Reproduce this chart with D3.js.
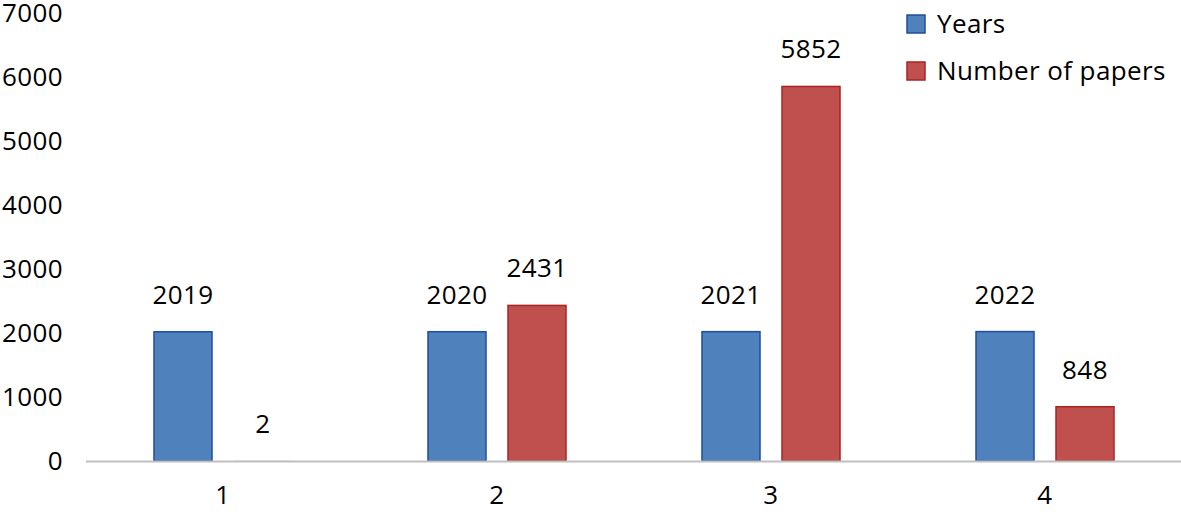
<!DOCTYPE html>
<html><head><meta charset="utf-8">
<script src="https://cdn.jsdelivr.net/npm/d3@7"></script>
<style>body{margin:0;background:#fff}svg{display:block}text{font-family:"Open Sans",sans-serif;fill:#000;letter-spacing:0.4px}</style>
</head><body><svg id="c" width="1181" height="512"></svg>
<script>
const categories = ["1","2","3","4"];
const years = [2019, 2020, 2021, 2022];
const papers = [2, 2431, 5852, 848];
const yTicks = [0,1000,2000,3000,4000,5000,6000,7000];
const seriesNames = ["Years","Number of papers"];
const colors = ["#4F81BD","#C0504D"];
const strokes = ["#1F4E9F","#A82423"];

const svg = d3.select("#c");
const x = d3.scaleBand().domain(categories).range([86,1182]);
const y = d3.scaleLinear().domain([0,7000]).range([461,13]);
const fs = 26;

// y tick labels
svg.append("g").selectAll("text").data(yTicks).join("text")
  .attr("x",63).attr("y",d=>y(d)).attr("dy","0.36em")
  .attr("text-anchor","end").style("font-size",fs+"px").text(d=>d);

const series = [years, papers];
series.forEach((vals,si)=>{
  const g = svg.append("g");
  g.selectAll("rect").data(categories).join("rect")
    .attr("x",c=>x(c)+x.bandwidth()/2 + (si===0?-69:11))
    .attr("width",58)
    .attr("y",(c,i)=>y(vals[i]))
    .attr("height",(c,i)=>y(0)-y(vals[i]))
    .attr("fill",colors[si])
    .attr("stroke",(c,i)=> (y(0)-y(vals[i]))>2 ? strokes[si] : "none")
    .attr("stroke-width",1.5);
  g.selectAll("text").data(categories).join("text")
    .attr("x",c=>x(c)+x.bandwidth()/2 + (si===0?-40:40))
    .attr("y",(c,i)=>y(vals[i])-28)
    .attr("text-anchor","middle").style("font-size",fs+"px")
    .text((c,i)=>vals[i]);
});

// x axis line
svg.append("line").attr("x1",86).attr("x2",1181).attr("y1",y(0)+0.5).attr("y2",y(0)+0.5)
  .attr("stroke","#BFBFBF").attr("stroke-width",2);

svg.append("g").selectAll("text").data(categories).join("text")
  .attr("x",c=>x(c)+x.bandwidth()/2).attr("y",504)
  .attr("text-anchor","middle").style("font-size",fs+"px").text(d=>d);

// legend
const lg = svg.append("g");
seriesNames.forEach((n,i)=>{
  lg.append("rect").attr("x",907).attr("y",15+i*47).attr("width",18).attr("height",18)
    .attr("fill",colors[i]).attr("stroke",strokes[i]).attr("stroke-width",1.5);
  lg.append("text").attr("x",937).attr("y",33+i*47).style("font-size",fs+"px").text(n);
});
</script></body></html>
